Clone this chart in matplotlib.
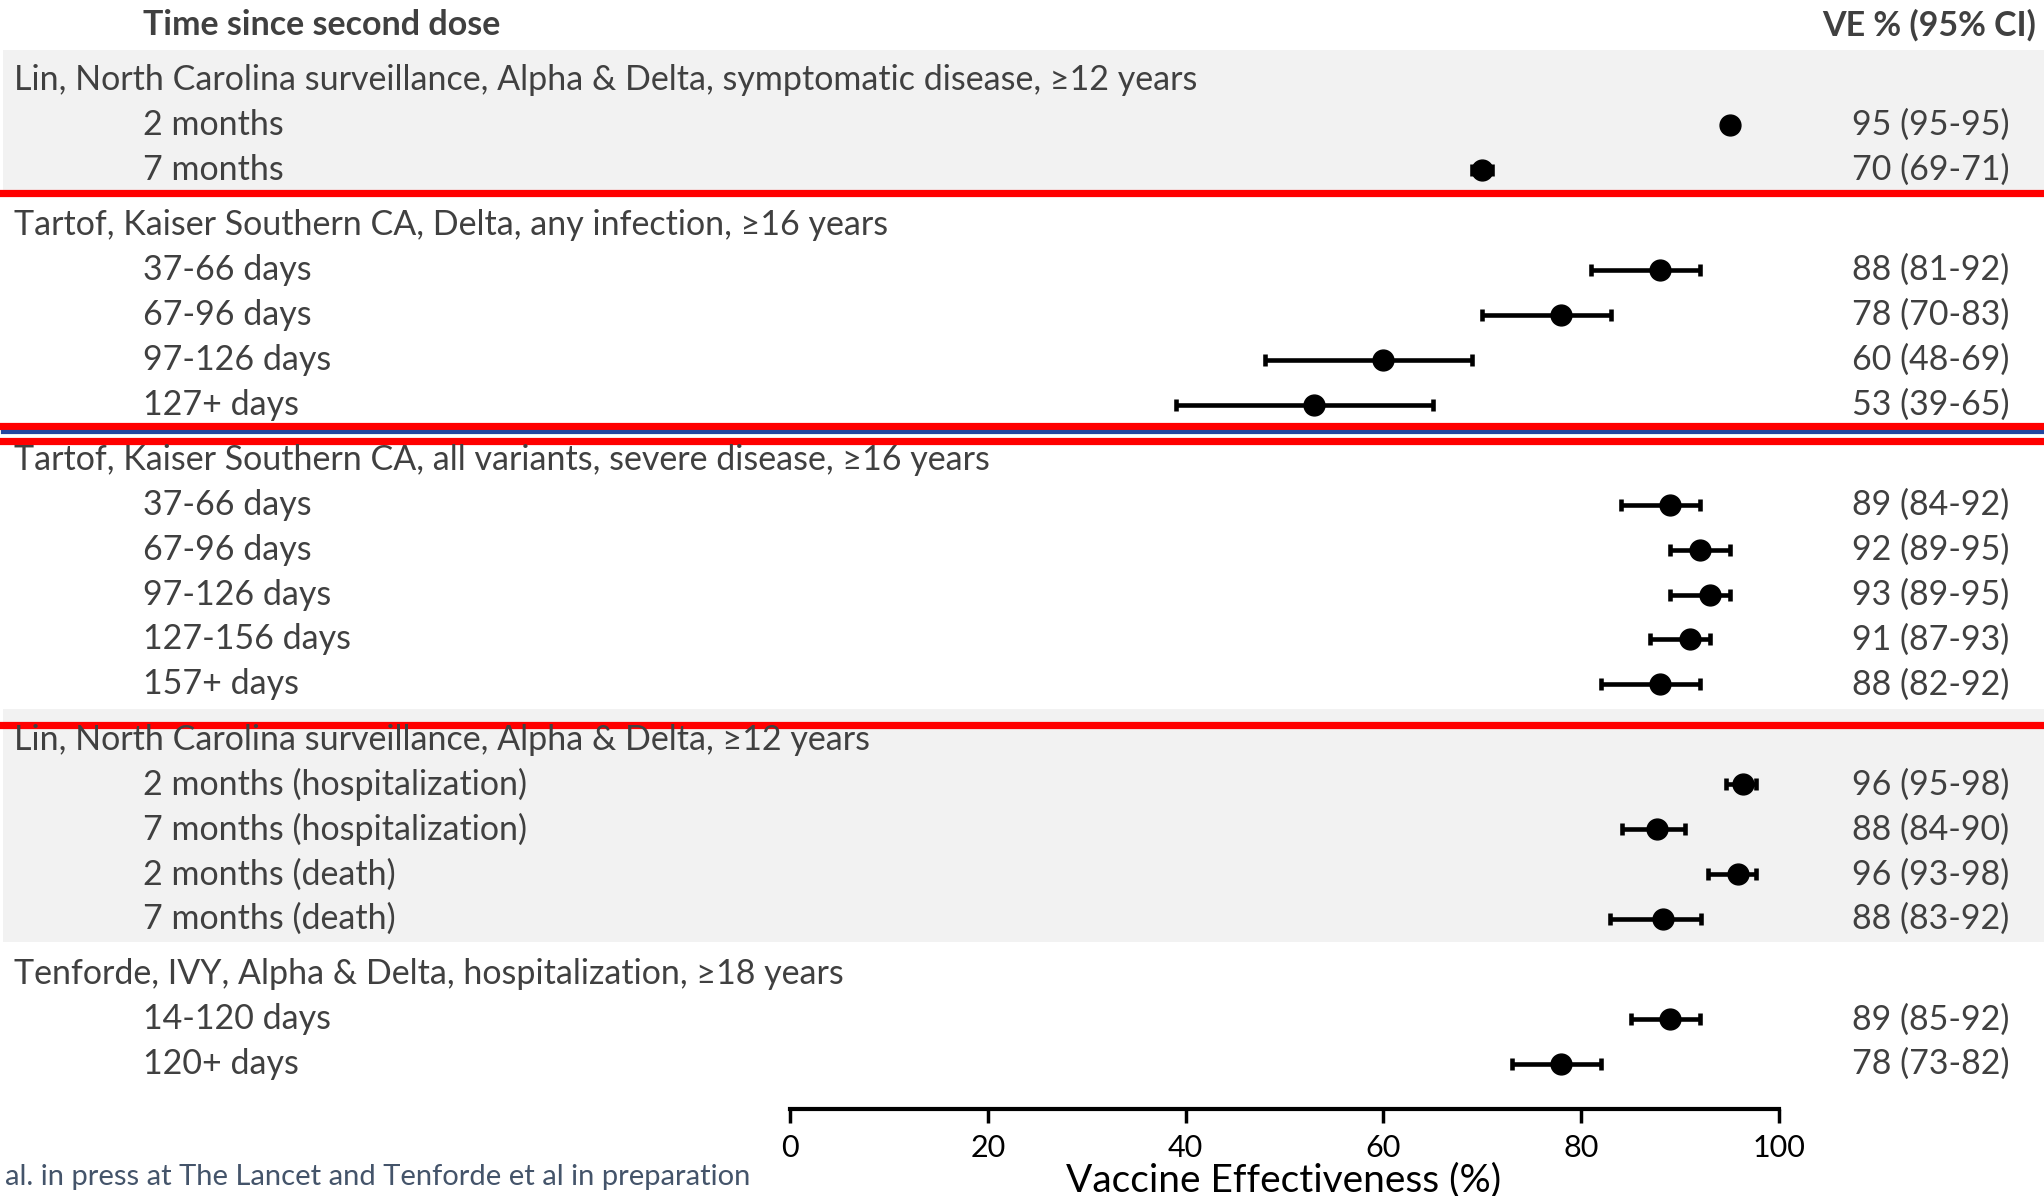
import matplotlib.pyplot as plt
import numpy as np

plt.rcParams['font.family'] = ['Lato', 'DejaVu Sans']

# ---- data ----
studies = [
    'Lin, North Carolina surveillance, Alpha & Delta, symptomatic disease, \u226512 years',
    'Tartof, Kaiser Southern CA, Delta, any infection, \u226516 years',
    'Tartof, Kaiser Southern CA, all variants, severe disease, \u226516 years',
    'Lin, North Carolina surveillance, Alpha & Delta, \u226512 years',
    'Tenforde, IVY, Alpha & Delta, hospitalization, \u226518 years',
]
shaded = [True, False, False, True, False]

lin_sym_times = ['2 months', '7 months']
lin_sym_ve = [95, 70]
lin_sym_lo = [95, 69]
lin_sym_hi = [95, 71]
lin_sym_txt = ['95 (95-95)', '70 (69-71)']

tartof_inf_times = ['37-66 days', '67-96 days', '97-126 days', '127+ days']
tartof_inf_ve = [88, 78, 60, 53]
tartof_inf_lo = [81, 70, 48, 39]
tartof_inf_hi = [92, 83, 69, 65]
tartof_inf_txt = ['88 (81-92)', '78 (70-83)', '60 (48-69)', '53 (39-65)']

tartof_sev_times = ['37-66 days', '67-96 days', '97-126 days', '127-156 days', '157+ days']
tartof_sev_ve = [89, 92, 93, 91, 88]
tartof_sev_lo = [84, 89, 89, 87, 82]
tartof_sev_hi = [92, 95, 95, 93, 92]
tartof_sev_txt = ['89 (84-92)', '92 (89-95)', '93 (89-95)', '91 (87-93)', '88 (82-92)']

lin_hosp_times = ['2 months (hospitalization)', '7 months (hospitalization)',
                  '2 months (death)', '7 months (death)']
lin_hosp_ve = [96.4, 87.7, 95.9, 88.3]
lin_hosp_lo = [94.6, 84.1, 92.8, 82.9]
lin_hosp_hi = [97.7, 90.5, 97.7, 92.1]
lin_hosp_txt = ['96 (95-98)', '88 (84-90)', '96 (93-98)', '88 (83-92)']

tenforde_times = ['14-120 days', '120+ days']
tenforde_ve = [89, 78]
tenforde_lo = [85, 73]
tenforde_hi = [92, 82]
tenforde_txt = ['89 (85-92)', '78 (73-82)']

groups = [
    (lin_sym_times, lin_sym_ve, lin_sym_lo, lin_sym_hi, lin_sym_txt),
    (tartof_inf_times, tartof_inf_ve, tartof_inf_lo, tartof_inf_hi, tartof_inf_txt),
    (tartof_sev_times, tartof_sev_ve, tartof_sev_lo, tartof_sev_hi, tartof_sev_txt),
    (lin_hosp_times, lin_hosp_ve, lin_hosp_lo, lin_hosp_hi, lin_hosp_txt),
    (tenforde_times, tenforde_ve, tenforde_lo, tenforde_hi, tenforde_txt),
]

# ---- layout ----
W, H = 2044, 1196
x0_px, x100_px = 790, 1779          # where 0 and 100 % sit
row_px, first_px = 44.9, 80         # row spacing, first heading
gap = 0.23

fig = plt.figure(figsize=(W / 100, H / 100), dpi=100)
ax = fig.add_axes([0, 0, 1, 1])
per_px = 100 / (x100_px - x0_px)
ax.set_xlim(-x0_px * per_px, (W - x0_px) * per_px)
ax.set_ylim((H - first_px) / row_px, -first_px / row_px)
ax.axis('off')

tc = '#404040'
fs = 24.5
trans = ax.get_yaxis_transform()  # x in axes fraction, y in data

ax.text(143 / W, -1.22, 'Time since second dose', transform=trans, fontsize=fs,
        fontweight='bold', color=tc, va='center', ha='left')
ax.text(2036 / W, -1.22, 'VE % (95% CI)', transform=trans, fontsize=fs,
        fontweight='bold', color=tc, va='center', ha='right')

y = 0.0
heads, lasts = [], []
for name, shade, (times, ve, lo, hi, txt) in zip(studies, shaded, groups):
    ys = y + 1 + np.arange(len(times))
    heads.append(y)
    lasts.append(ys[-1])
    if shade:
        ax.axhspan(y - 0.67, ys[-1] + 0.5, xmin=3 / W, xmax=1, color='#F2F2F2', lw=0, zorder=0)
    ax.text(14 / W, y, name, transform=trans, fontsize=fs, color=tc, va='center', ha='left')
    for yy, t, s in zip(ys, times, txt):
        ax.text(143 / W, yy, t, transform=trans, fontsize=fs, color=tc, va='center', ha='left')
        ax.text(2009 / W, yy, s, transform=trans, fontsize=fs, color=tc, va='center', ha='right')
    ve = np.array(ve)
    err = [ve - np.array(lo), np.array(hi) - ve]
    ax.errorbar(ve, ys, xerr=err, fmt='o', color='black', ms=15, elinewidth=3.3,
                capsize=4.5, capthick=3.3, zorder=3)
    y = ys[-1] + 1 + gap

# separators drawn on the slide
ax.axhline(lasts[0] + 0.506, color='#FF0000', lw=5.2, zorder=2)
ax.axhline(lasts[1] + 0.476, color='#FF0000', lw=5.2, zorder=2)
ax.axhline(lasts[1] + 0.61, xmin=3 / W, color='#2446A0', lw=3, zorder=2)
ax.axhline(lasts[1] + 0.80, color='#FF0000', lw=5.2, zorder=2)
ax.axhline(heads[3] - 0.32, color='#FF0000', lw=5.2, zorder=2)

# x axis
axis_px = 1109
ax2 = fig.add_axes([x0_px / W, 1 - axis_px / H, (x100_px - x0_px) / W, 0.0005])
ax2.set_xlim(0, 100)
ax2.set_xticks(np.arange(0, 101, 20))
ax2.set_yticks([])
ax2.patch.set_visible(False)
for s in ['top', 'left', 'right']:
    ax2.spines[s].set_visible(False)
ax2.spines['bottom'].set_linewidth(3)
ax2.tick_params(axis='x', direction='out', length=10, width=2.5, pad=8,
                labelsize=22, labelcolor='black')
fig.text(1284 / W, 1 - 1180 / H, 'Vaccine Effectiveness (%)', fontsize=28,
         color='black', ha='center', va='center')

fig.text(5 / W, 1 - 1177 / H, 'al. in press at The Lancet and Tenforde et al in preparation',
         fontsize=21, color='#44546A', ha='left', va='center')

fig.savefig('out.png', dpi=100)
